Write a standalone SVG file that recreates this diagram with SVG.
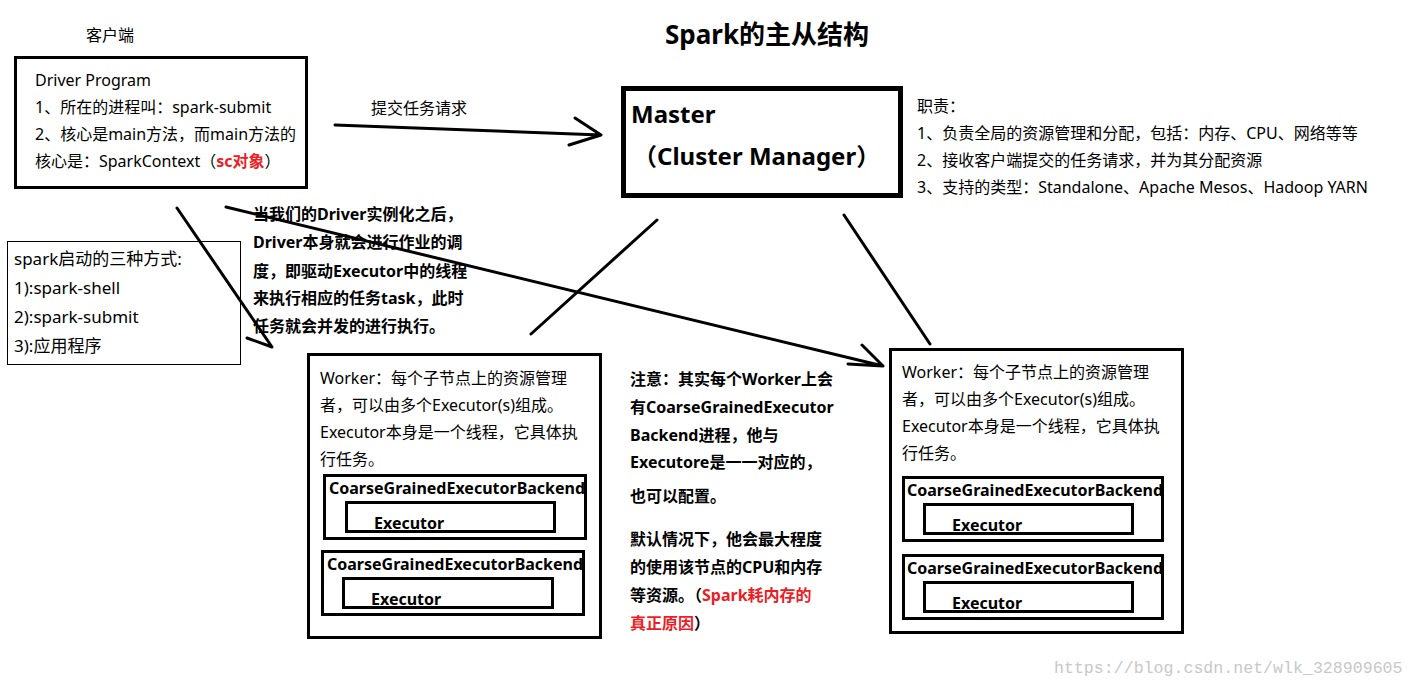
<svg xmlns="http://www.w3.org/2000/svg" width="1414" height="688" viewBox="0 0 1414 688">
<style>
text{font-family:"Noto Sans","Noto Sans CJK SC",sans-serif;fill:#000;}
.t16{font-size:16px;}
.t17{font-size:17px;}
.b{font-weight:bold;}
.red{fill:#ee1c25;}
.box{fill:none;stroke:#000;stroke-width:3;}
.thin{fill:none;stroke:#000;stroke-width:1;}
.ln{fill:none;stroke:#000;stroke-width:3;stroke-linecap:round;stroke-linejoin:round;}
.wm{font-family:"Liberation Mono",monospace;font-size:16.6px;fill:#c8c8c8;}
</style>
<rect width="1414" height="688" fill="#fff"/>

<text x="665" y="44" class="b" style="font-size:26px">Spark的主从结构</text>

<g id="client-label"><text x="86" y="41" class="t16">客户端</text></g>

<g id="driver">
<rect x="15.5" y="57.5" width="291" height="130" class="box"/>
<text x="35" y="86" class="t16">Driver Program</text>
<text x="35" y="113" class="t16">1、所在的进程叫：spark-submit</text>
<text x="35" y="140" class="t16">2、核心是main方法，而main方法的</text>
<text x="35" y="167" class="t16">核心是：SparkContext（<tspan class="red b">sc对象</tspan>）</text>
</g>

<g id="submit-label"><text x="371" y="114" class="t16">提交任务请求</text></g>

<g id="master">
<rect x="623.5" y="88.5" width="277" height="107" fill="none" stroke="#000" stroke-width="5"/>
<text x="631" y="123" class="b" style="font-size:24px">Master</text>
<text x="633" y="165" class="b" style="font-size:24px">（Cluster Manager）</text>
</g>

<g id="duties">
<text x="917" y="112" class="t16">职责：</text>
<text x="917" y="139" class="t16">1、负责全局的资源管理和分配，包括：内存、CPU、网络等等</text>
<text x="917" y="166" class="t16">2、接收客户端提交的任务请求，并为其分配资源</text>
<text x="917" y="193" class="t16">3、支持的类型：Standalone、Apache Mesos、Hadoop YARN</text>
</g>

<g id="launch-modes">
<rect x="7.5" y="241.5" width="233" height="123" class="thin"/>
<text x="14" y="265" class="t17">spark启动的三种方式:</text>
<text x="14" y="294" class="t17">1):spark-shell</text>
<text x="14" y="323" class="t17">2):spark-submit</text>
<text x="14" y="352" class="t17">3):应用程序</text>
</g>

<g id="driver-note">
<text x="253" y="220" class="t16 b">当我们的Driver实例化之后，</text>
<text x="253" y="248" class="t16 b">Driver本身就会进行作业的调</text>
<text x="253" y="277" class="t16 b">度，即驱动Executor中的线程</text>
<text x="253" y="304" class="t16 b">来执行相应的任务task，此时</text>
<text x="253" y="332" class="t16 b">任务就会并发的进行执行。</text>
</g>

<g id="worker1">
<rect x="308.5" y="354.5" width="292" height="283" class="box"/>
<text x="320" y="384" class="t16">Worker：每个子节点上的资源管理</text>
<text x="320" y="411" class="t16">者，可以由多个Executor(s)组成。</text>
<text x="320" y="438" class="t16">Executor本身是一个线程，它具体执</text>
<text x="320" y="465" class="t16">行任务。</text>
<rect x="324.5" y="475.5" width="261" height="63" class="box"/>
<text x="329" y="494" class="t16 b">CoarseGrainedExecutorBackend</text>
<rect x="346.5" y="502.5" width="208" height="29" class="box"/>
<text x="374" y="529" class="t16 b">Executor</text>
<rect x="322.5" y="551.5" width="261" height="63" class="box"/>
<text x="327" y="570" class="t16 b">CoarseGrainedExecutorBackend</text>
<rect x="343.5" y="578.5" width="209" height="29" class="box"/>
<text x="371" y="605" class="t16 b">Executor</text>
</g>

<g id="worker-note">
<text x="630" y="385" class="t16 b">注意：其实每个Worker上会</text>
<text x="630" y="413" class="t16 b">有CoarseGrainedExecutor</text>
<text x="630" y="441" class="t16 b">Backend进程，他与</text>
<text x="630" y="468" class="t16 b">Executore是一一对应的，</text>
<text x="630" y="502" class="t16 b">也可以配置。</text>
<text x="630" y="545" class="t16 b">默认情况下，他会最大程度</text>
<text x="630" y="573" class="t16 b">的使用该节点的CPU和内存</text>
<text x="630" y="601" class="t16 b">等资源。（<tspan class="red">Spark耗内存的</tspan></text>
<text x="630" y="629" class="t16 b"><tspan class="red">真正原因</tspan>）</text>
</g>

<g id="worker2">
<rect x="890.5" y="349.5" width="292" height="283" class="box"/>
<text x="902" y="378" class="t16">Worker：每个子节点上的资源管理</text>
<text x="902" y="405" class="t16">者，可以由多个Executor(s)组成。</text>
<text x="902" y="432" class="t16">Executor本身是一个线程，它具体执</text>
<text x="902" y="459" class="t16">行任务。</text>
<rect x="903.5" y="477.5" width="259" height="63" class="box"/>
<text x="907" y="496" class="t16 b">CoarseGrainedExecutorBackend</text>
<rect x="924.5" y="504.5" width="208" height="29" class="box"/>
<text x="952" y="531" class="t16 b">Executor</text>
<rect x="903.5" y="555.5" width="259" height="63" class="box"/>
<text x="907" y="574" class="t16 b">CoarseGrainedExecutorBackend</text>
<rect x="924.5" y="582.5" width="208" height="29" class="box"/>
<text x="952" y="609" class="t16 b">Executor</text>
</g>

<g id="connectors">
<path class="ln" d="M335 125 L601 135 M575 118 L601 135 L569 145"/>
<path class="ln" d="M177 208 L272 347 L247 338"/>
<path class="ln" d="M226 207 L883 366 M862 345 L883 366 L848 364"/>
<path class="ln" d="M657 220 L531 334"/>
<path class="ln" d="M844 215 L930 344"/>
</g>

<text x="1054" y="673" class="wm">https://blog.csdn.net/wlk_328909605</text>
</svg>
